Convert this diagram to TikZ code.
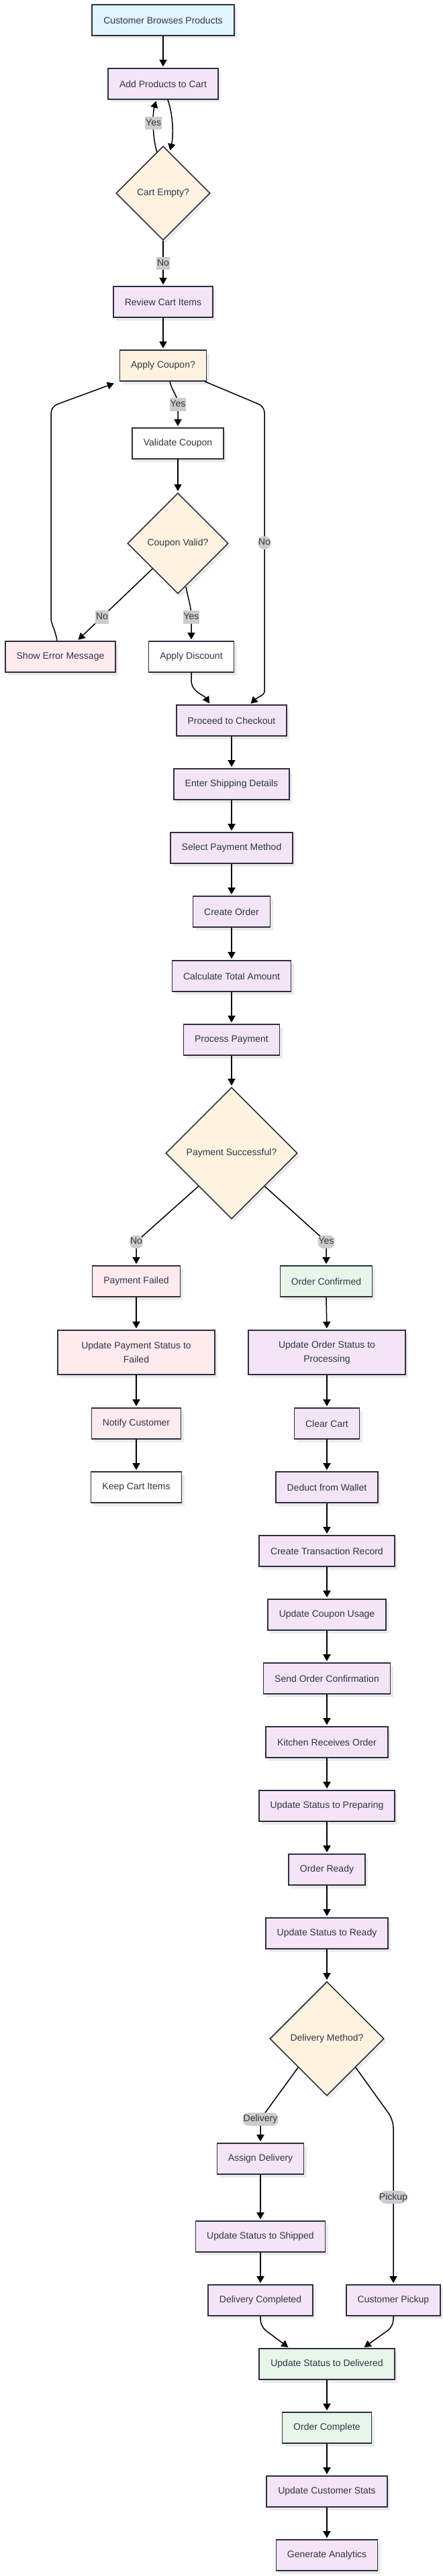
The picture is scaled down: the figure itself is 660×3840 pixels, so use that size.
\documentclass[tikz,border=0pt]{standalone}
\usepackage{fontspec}
\setmainfont{Liberation Sans}
\usetikzlibrary{shapes.geometric,arrows.meta,shadows,calc}
\definecolor{cstroke}{HTML}{2E2E42}
\definecolor{ctext}{HTML}{333344}
\definecolor{cblue}{HTML}{E1F5FE}
\definecolor{cpurple}{HTML}{F3E5F5}
\definecolor{corange}{HTML}{FFF3E0}
\definecolor{cpink}{HTML}{FFEBEE}
\definecolor{cgreen}{HTML}{E8F5E9}
\definecolor{clabel}{HTML}{CCCCCC}
\definecolor{cshadow}{HTML}{EBEBEB}
\begin{document}
\begin{tikzpicture}[x=1pt,y=-1pt,
  font=\fontsize{14}{21}\selectfont,
  nbase/.style={draw=cstroke, line width=1.6pt, text=ctext, inner sep=0pt, align=center,
    drop shadow={shadow xshift=4pt, shadow yshift=-4.5pt, fill=cshadow, opacity=1}},
  nrect/.style={nbase, rectangle, minimum width=#1pt, minimum height=46pt},
  nproc/.style={nrect=#1, fill=cpurple},
  nstart/.style={nrect=#1, fill=cblue},
  nwhite/.style={nrect=#1, fill=white},
  npink/.style={nrect=#1, fill=cpink},
  ngreen/.style={nrect=#1, fill=cgreen},
  nqbox/.style={nrect=#1, fill=corange},
  ndec/.style={nbase, diamond, aspect=1, minimum width=#1pt, minimum height=#1pt, fill=corange},
  conn/.style={draw=black, line width=1.5pt, -{Triangle[length=10pt,width=11pt]}, shorten >=2pt},
  lbl/.style={fill=clabel, text=ctext, inner xsep=1pt, inner ysep=3pt, text height=10.5pt, text depth=3pt}
]
\useasboundingbox (0,0) rectangle (660,3840);

% ---- nodes ----
\node[nstart=212] (browse) at (243,30) {Customer Browses Products};
\node[nproc=164] (add) at (243,125) {Add Products to Cart};
\node[ndec=140] (empty) at (243,288) {Cart Empty?};
\node[nproc=148] (review) at (243,450) {Review Cart Items};
\node[nqbox=129] (coupon) at (243,545) {Apply Coupon?};
\node[nwhite=136] (validate) at (265,661) {Validate Coupon};
\node[ndec=150] (valid) at (265,810) {Coupon Valid?};
\node[npink=164] (error) at (90,979) {Show Error Message};
\node[nwhite=127] (discount) at (285,979) {Apply Discount};
\node[nproc=164] (checkout) at (345,1074) {Proceed to Checkout};
\node[nproc=172] (shipping) at (345,1169) {Enter Shipping Details};
\node[nproc=182] (paymethod) at (345,1264) {Select Payment Method};
\node[nproc=115] (create) at (345,1359) {Create Order};
\node[nproc=177] (calc) at (345,1455) {Calculate Total Amount};
\node[nproc=143] (process) at (345,1550) {Process Payment};
\node[ndec=196] (success) at (345,1719) {Payment Successful?};
\node[npink=131] (failed) at (203,1910) {Payment Failed};
\node[ngreen=137] (confirmed) at (486,1910) {Order Confirmed};
\node[npink=234, minimum height=66pt] (updfail) at (203,2016) {Update Payment Status to\\Failed};
\node[nproc=234, minimum height=66pt] (updproc) at (487,2016) {Update Order Status to\\Processing};
\node[npink=133] (notify) at (203,2122) {Notify Customer};
\node[nproc=97] (clear) at (487,2122) {Clear Cart};
\node[nwhite=135] (keep) at (203,2217) {Keep Cart Items};
\node[nproc=152] (deduct) at (487,2217) {Deduct from Wallet};
\node[nproc=202] (trans) at (487,2312) {Create Transaction Record};
\node[nproc=176] (couponuse) at (487,2407) {Update Coupon Usage};
\node[nproc=189] (sendconf) at (487,2502) {Send Order Confirmation};
\node[nproc=182] (kitchen) at (487,2597) {Kitchen Receives Order};
\node[nproc=202] (preparing) at (487,2692) {Update Status to Preparing};
\node[nproc=114] (ready) at (487,2787) {Order Ready};
\node[nproc=182] (statusready) at (487,2882) {Update Status to Ready};
\node[ndec=170] (method) at (487,3039) {Delivery Method?};
\node[nproc=129] (assign) at (388,3218) {Assign Delivery};
\node[nproc=193] (shipped) at (388,3334) {Update Status to Shipped};
\node[nproc=156] (delcomp) at (388,3429) {Delivery Completed};
\node[nproc=140] (pickup) at (586,3429) {Customer Pickup};
\node[ngreen=202] (delivered) at (487,3524) {Update Status to Delivered};
\node[ngreen=133] (complete) at (487,3619) {Order Complete};
\node[nproc=180] (stats) at (487,3714) {Update Customer Stats};
\node[nproc=151] (analytics) at (487,3809) {Generate Analytics};

% ---- connectors ----
\draw[conn] (browse.south) -- (add.north);
\draw[conn] ([xshift=7pt]add.south) .. controls (259,175) and (258,205) .. ($(empty.north)+(10,9)$);
\draw[conn] ($(empty.north)+(-9,10)$) .. controls (227,205) and (227,170) .. ([xshift=-10pt]add.south) node[lbl,pos=0.55] (l1) {Yes};
\draw[conn] (empty.south) -- node[lbl] (l2) {No} (review.north);
\draw[conn] (review.south) -- (coupon.north);
\draw[conn] ([xshift=10pt]coupon.south) .. controls (257,585) and (265,590) .. (265,603) node[lbl] (l3) {Yes} -- (validate.north);
\draw[conn, rounded corners=9pt] ([xshift=-3pt]coupon.south east) -- (394,606) -- (394,1022) node[lbl,pos=0.488] (l4) {No} .. controls (394,1036) and (383,1040) .. ([xshift=27pt]checkout.north);
\draw[conn, rounded corners=10pt] ([xshift=-5pt]error.north) .. controls (83,940) and (76,930) .. (76,912) -- (76,606) -- ([xshift=-6pt,yshift=-2pt]coupon.south west);
\draw[conn] (validate.south) -- (valid.north);
\draw[conn] (valid.south west) -- node[lbl,pos=0.67] (l5) {No} ([xshift=25pt]error.north);
\draw[conn] ($(valid.south)+(12,-11)$) .. controls (281,895) and (285,905) .. (285,920) node[lbl] (l6) {Yes} -- (discount.north);
\draw[conn] (discount.south) -- (285,1014) .. controls (285,1032) and (304,1036) .. ([xshift=-32pt]checkout.north);

\foreach \a/\b in {checkout/shipping, shipping/paymethod, paymethod/create, create/calc, calc/process, process/success,
  failed/updfail, updfail/notify, notify/keep,
  confirmed/updproc, updproc/clear, clear/deduct, deduct/trans, trans/couponuse, couponuse/sendconf,
  sendconf/kitchen, kitchen/preparing, preparing/ready, ready/statusready, statusready/method,
  assign/shipped, shipped/delcomp, delivered/complete, complete/stats, stats/analytics}
  \draw[conn] (\a.south) -- (\b.north);

\draw[conn, rounded corners=8pt] (success.south west) -- (203,1851) node[lbl] (l7) {No} -- (failed.north);
\draw[conn, rounded corners=8pt] (success.south east) -- (486,1851) node[lbl] (l8) {Yes} -- (confirmed.north);

\draw[conn, rounded corners=8pt] (method.south west) -- (388,3159) node[lbl] (l9) {Delivery} -- (assign.north);
\draw[conn, rounded corners=12pt] (method.south east) -- (586,3160) -- (pickup.north) node[lbl,pos=0.47] (l10) {Pickup};
\draw[conn, rounded corners=10pt] (delcomp.south) -- (388,3468) -- ([xshift=-56pt]delivered.north);
\draw[conn, rounded corners=10pt] (pickup.south) -- (586,3468) -- ([xshift=54pt]delivered.north);
\end{tikzpicture}
\end{document}
